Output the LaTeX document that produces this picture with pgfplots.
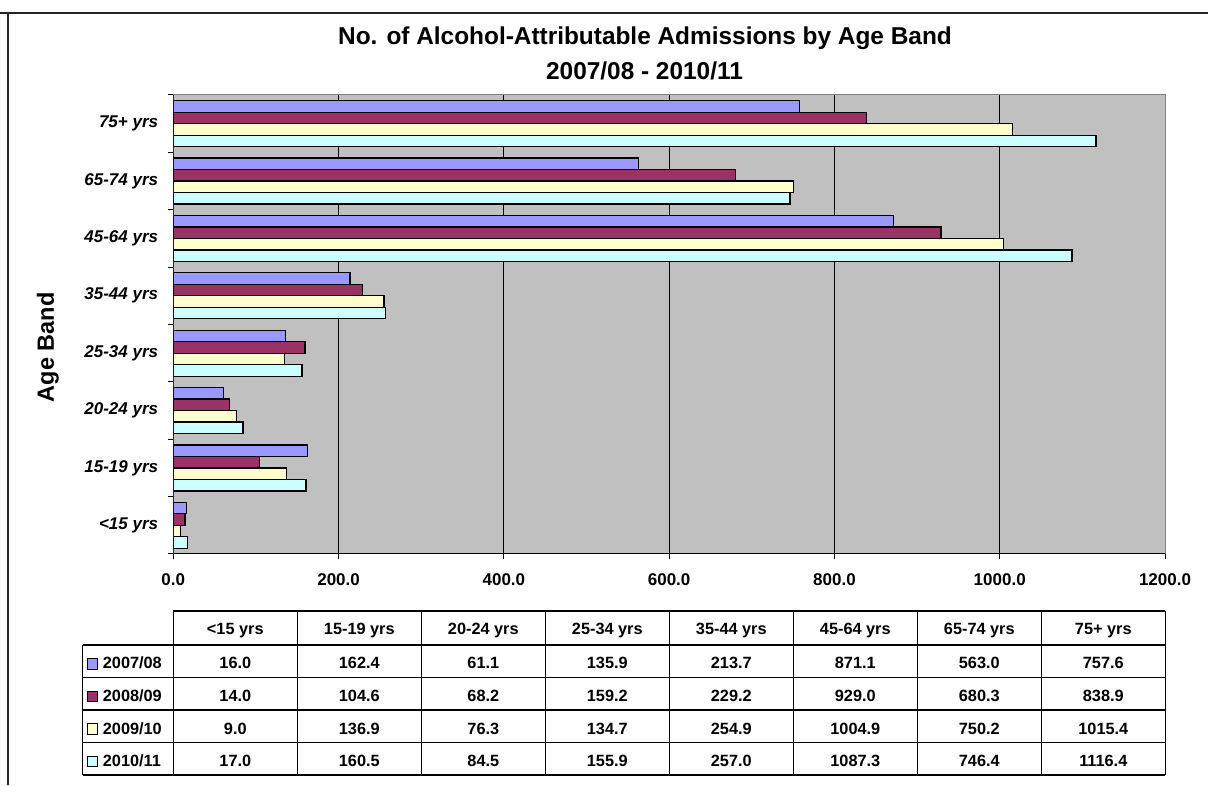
\documentclass[border=0pt]{standalone}
\usepackage{pgfplots}
\usepackage{pgfplotstable}
\usepackage{fontspec}
\setmainfont{Liberation Sans}
\pgfplotsset{compat=1.18}

\definecolor{c0708}{HTML}{9999FF}
\definecolor{c0809}{HTML}{993366}
\definecolor{c0910}{HTML}{FFFFCC}
\definecolor{c1011}{HTML}{CCFFFF}
\definecolor{plotbg}{HTML}{C0C0C0}
\definecolor{plotedge}{HTML}{808080}

\newcommand\titlefont{\fontsize{24.4}{29}\selectfont\bfseries}
\newcommand\ytfont{\fontsize{17}{20}\selectfont\bfseries\itshape}
\newcommand\xtfont{\fontsize{17}{20}\selectfont\bfseries}
\newcommand\tabfont{\fontsize{16.3}{19}\selectfont\bfseries}
\newcommand\labfont{\fontsize{23.5}{27}\selectfont\bfseries}

% admissions per age band, one column per financial year
\pgfplotstableread{
idx band a b c d
0 {<15 yrs} 16.0 14.0 9.0 17.0
1 {15-19 yrs} 162.4 104.6 136.9 160.5
2 {20-24 yrs} 61.1 68.2 76.3 84.5
3 {25-34 yrs} 135.9 159.2 134.7 155.9
4 {35-44 yrs} 213.7 229.2 254.9 257.0
5 {45-64 yrs} 871.1 929.0 1004.9 1087.3
6 {65-74 yrs} 563.0 680.3 750.2 746.4
7 {75+ yrs} 757.6 838.9 1015.4 1116.4
}\admissions

\begin{document}
\begin{tikzpicture}[x=1pt,y=1pt]
\useasboundingbox (0,0) rectangle (1208,785);

% frame of the chart area
\draw[line width=1.6pt, black!85] (0,772) -- (1208,772);
\draw[line width=1.6pt, black!85] (8,772) -- (8,0);

% titles
\node[font=\titlefont, anchor=base, inner sep=0pt] at (645,740) {No. of Alcohol-Attributable Admissions by Age Band};
\node[font=\titlefont, anchor=base, inner sep=0pt] at (644.5,705) {2007/08 - 2010/11};

\begin{axis}[
  at={(173.3pt,231pt)}, anchor=south west,
  scale only axis, width=991.7pt, height=459pt,
  xmin=0, xmax=1200, ymin=-0.5, ymax=7.5,
  xbar, bar width=11.5pt,
  axis background/.style={fill=plotbg},
  axis line style={draw=plotedge, line width=1pt},
  xtick={0,200,...,1200},
  xticklabels={0.0,200.0,400.0,600.0,800.0,1000.0,1200.0},
  xtick pos=left,
  extra x ticks={200,400,600,800,1000},
  extra x tick labels={},
  extra x tick style={grid=major, major grid style={black, line width=1.2pt}},
  ytick={0,...,7},
  yticklabels from table={\admissions}{band},
  ytick pos=left,
  minor ytick={-0.5,0.5,...,7.5},
  tick align=outside,
  major tick length=5pt, minor tick length=5pt,
  major y tick style={draw=none},
  minor y tick style={black, line width=1pt},
  major x tick style={black, line width=1pt},
  yticklabel style={font=\ytfont, anchor=east, inner sep=0pt, xshift=-10pt},
  xticklabel style={font=\xtfont, anchor=north, inner sep=0pt, yshift=-14pt},
  ylabel={Age Band},
  ylabel style={font=\labfont, at={(axis description cs:-0.1264,0.45)}, anchor=center},
]
\addplot[fill=c0708, draw=black, line width=1.3pt, bar shift=17.25pt] table[x=a, y=idx] {\admissions};
\addplot[fill=c0809, draw=black, line width=1.3pt, bar shift=5.75pt] table[x=b, y=idx] {\admissions};
\addplot[fill=c0910, draw=black, line width=1.3pt, bar shift=-5.75pt] table[x=c, y=idx] {\admissions};
\addplot[fill=c1011, draw=black, line width=1.3pt, bar shift=-17.25pt] table[x=d, y=idx] {\admissions};
\draw[black, line width=1.3pt] (axis cs:0,7.5) -- (axis cs:0,-0.5) -- (axis cs:1200,-0.5);
\end{axis}

% data table under the chart
\begin{scope}[line width=1.2pt]
  \draw (173.3,174) -- (1165.3,174);
  \foreach \yy in {140,107.5,75,42.5,10} \draw (82.7,\yy) -- (1165.3,\yy);
  \draw (82.7,140) -- (82.7,10);
  \foreach \k in {0,...,8} \draw ({173.3+124*\k},174) -- ({173.3+124*\k},10);
\end{scope}
\foreach \k in {0,...,7}{
  \pgfplotstablegetelem{\k}{band}\of\admissions
  \node[font=\tabfont, anchor=base, inner sep=0pt] at ({173.3+124*(\k+0.5)},150.7) {\pgfplotsretval};
}
\foreach \col/\yr/\clr/\base in {a/{2007/08}/c0708/116, b/{2008/09}/c0809/83.5, c/{2009/10}/c0910/51, d/{2010/11}/c1011/18.5}{
  \fill[\clr, draw=black, line width=0.8pt] (87,\base) rectangle (97.3,\base+10.3);
  \node[font=\tabfont, anchor=base west, inner sep=0pt] at (102.7,\base) {\yr};
  \foreach \k in {0,...,7}{
    \pgfplotstablegetelem{\k}{\col}\of\admissions
    \node[font=\tabfont, anchor=base, inner sep=0pt] at ({173.3+124*(\k+0.5)},\base) {\pgfplotsretval};
  }
}
\end{tikzpicture}
\end{document}
